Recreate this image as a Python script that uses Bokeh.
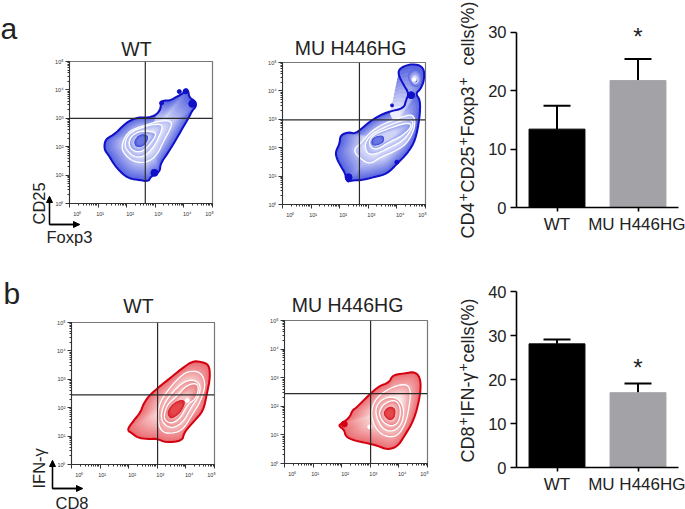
import math
from bokeh.plotting import figure
from bokeh.layouts import column, row
from bokeh.models import Label, Span, Arrow, NormalHead, Whisker, ColumnDataSource, TeeHead, Range1d, FactorRange
from bokeh.core.properties import value
from bokeh.embed import file_html
from bokeh.resources import INLINE

FONT = "Liberation Sans"
INK = "#222222"
PAGE_W, PAGE_H = 685, 509

# ---- bar data
bar_categories = ["WT", "MU H446HG"]
a_values = [13.4, 21.7]
a_upper = [17.4, 25.4]
a_star = [29.3]
b_values = [28.1, 17.0]
b_upper = [29.1, 19.1]
b_star = [22.7]
bar_colors = ["#000000", "#a3a3a7"]

# ---- flow data: contours in log10 decades, outermost first
a1_contours = [
 [(1.22,2.11),(1.29,2.28),(1.60,2.46),(1.84,2.71),(2.07,2.90),(2.42,3.04),(2.71,3.02),(3.01,3.10),(3.20,3.33),(3.18,3.57),(3.32,3.63),(3.53,3.63),(3.77,3.77),(3.98,3.88),(4.06,4.04),(4.15,3.98),(4.19,3.72),(4.41,3.60),(4.43,3.42),(4.29,3.27),(4.18,3.04),(3.94,2.63),(3.71,2.22),(3.42,1.75),(3.18,1.40),(3.16,1.11),(2.83,0.94),(2.77,0.78),(2.48,0.82),(2.07,0.88),(1.78,1.11),(1.54,1.40),(1.37,1.70),(1.23,1.87)],
 [(1.80,1.99),(2.01,2.51),(2.48,2.71),(3.18,2.92),(3.59,2.90),(3.53,2.63),(3.30,2.22),(3.06,1.70),(2.71,1.44),(2.25,1.46),(1.95,1.70)],
 [(1.92,2.11),(2.07,2.46),(2.48,2.67),(3.06,2.81),(3.26,2.75),(3.18,2.46),(2.95,1.99),(2.60,1.64),(2.25,1.64),(2.01,1.87)],
 [(2.07,2.16),(2.19,2.40),(2.48,2.55),(2.83,2.54),(3.06,2.46),(2.83,2.11),(2.60,1.87),(2.36,1.81),(2.13,1.93)],
 [(2.25,2.22),(2.48,2.46),(2.77,2.40),(2.71,2.16),(2.54,1.99),(2.30,1.99)],
]
a1_islands = []
a1_blob_x = [3.84, 4.29, 2.97, 3.22, 4.06]
a1_blob_y = [3.94, 3.51, 1.08, 3.54, 3.95]
a1_blob_s = [4, 7, 7, 4, 5]
a1_cross = (2.65, 3.0)

a2_contours = [
 [(1.85,1.85),(2.00,2.14),(2.02,2.44),(2.31,2.55),(2.55,2.49),(2.90,2.79),(3.19,3.02),(3.66,3.26),(4.24,3.38),(4.32,3.67),(4.42,3.91),(4.24,4.20),(4.03,4.61),(4.12,4.82),(4.53,4.96),(4.94,4.85),(4.96,4.38),(4.82,4.05),(4.65,3.91),(4.82,3.67),(4.80,3.08),(4.65,2.26),(4.36,1.79),(4.01,1.44),(3.66,1.08),(3.19,0.96),(2.72,0.85),(2.43,0.85),(2.25,0.79),(2.20,1.08),(2.02,1.38),(1.90,1.61)],
 [(2.46,1.91),(2.78,2.20),(3.07,2.55),(3.54,2.85),(4.12,3.06),(4.59,3.20),(4.65,2.73),(4.36,2.14),(3.89,1.85),(3.42,1.67),(3.07,1.41),(2.72,1.61)],
 [(2.90,2.20),(3.13,2.49),(3.60,2.73),(4.12,2.94),(4.53,3.02),(4.57,2.73),(4.24,2.26),(3.77,2.02),(3.31,1.79),(3.01,1.76),(2.90,1.96)],
 [(3.01,2.20),(3.19,2.47),(3.66,2.65),(4.24,2.85),(4.50,2.85),(4.47,2.67),(4.12,2.38),(3.71,2.20),(3.36,1.96),(3.13,1.96)],
 [(3.10,2.26),(3.25,2.40),(3.54,2.44),(3.56,2.20),(3.31,2.08),(3.13,2.08)],
]
a2_islands = [
 [(4.36,4.61),(4.65,4.82),(4.88,4.61),(4.88,4.20),(4.59,4.12),(4.42,4.32)],
 [(4.50,4.40),(4.61,4.53),(4.77,4.40),(4.65,4.24)],
]
a2_blob_x = [3.83, 4.50, 2.31, 4.00]
a2_blob_y = [3.49, 3.85, 0.96, 1.49]
a2_blob_s = [3, 7, 7, 4]
a2_cross = (2.69, 2.98)

b1_contours = [
 [(1.94,1.21),(2.12,1.48),(2.41,1.83),(2.51,2.12),(2.70,2.41),(3.00,2.68),(3.47,3.06),(3.82,3.35),(4.23,3.64),(4.52,3.62),(4.81,3.52),(4.85,3.06),(4.73,2.47),(4.61,1.89),(4.29,1.53),(3.93,1.12),(3.88,0.83),(3.29,0.77),(3.00,0.91),(2.65,0.89),(2.30,0.95),(2.12,1.10)],
 [(3.02,1.65),(3.06,2.12),(3.35,2.59),(3.70,3.00),(4.05,3.29),(4.52,3.27),(4.70,2.82),(4.52,2.24),(4.23,1.77),(3.88,1.18),(3.35,1.07),(3.09,1.24)],
 [(3.11,1.65),(3.23,2.12),(3.52,2.53),(3.88,2.88),(4.23,3.00),(4.52,2.82),(4.46,2.41),(4.17,2.00),(3.93,1.53),(3.58,1.28),(3.29,1.36)],
 [(3.23,1.71),(3.35,2.12),(3.70,2.41),(3.99,2.76),(4.34,2.88),(4.46,2.70),(4.34,2.30),(4.05,2.12),(3.82,1.65),(3.52,1.44),(3.29,1.53)],
 [(3.35,1.89),(3.58,2.18),(3.88,2.30),(3.99,2.18),(3.82,1.83),(3.52,1.60),(3.38,1.68)],
]
b1_islands = []
b1_blob_x, b1_blob_y, b1_blob_s = [], [], []
b1_cross = (3.01, 2.45)

b2_contours = [
 [(1.91,1.35),(2.26,1.58),(2.38,1.87),(2.49,1.93),(2.96,2.40),(3.31,2.71),(3.66,2.83),(3.78,3.09),(4.18,3.15),(4.59,3.21),(4.77,2.92),(4.74,2.34),(4.53,1.52),(4.18,0.94),(3.95,0.59),(3.60,0.48),(3.25,0.62),(2.90,0.71),(2.44,0.80),(2.14,0.94),(2.09,1.17),(1.93,1.29)],
 [(3.02,1.81),(3.19,2.28),(3.66,2.63),(4.24,2.80),(4.42,2.57),(4.36,1.99),(4.24,1.41),(3.95,0.94),(3.48,0.94),(3.14,1.29)],
 [(3.17,1.93),(3.43,2.28),(3.89,2.34),(4.18,1.99),(4.13,1.41),(3.83,1.12),(3.48,1.17),(3.25,1.52)],
 [(3.31,1.81),(3.48,2.10),(3.89,2.24),(4.07,1.93),(4.01,1.47),(3.78,1.29),(3.48,1.41),(3.34,1.64)],
 [(3.46,1.81),(3.66,2.01),(3.89,1.93),(3.86,1.58),(3.66,1.50),(3.50,1.64)],
]
b2_islands = []
b2_blob_x, b2_blob_y, b2_blob_s = [2.09], [1.38], [6]
b2_cross = (3.01, 2.44)

white_dots = {"a2": [(4.61, 4.40)], "b1": [(4.05, 2.26)], "b2": [(2.98, 1.28)]}

decade_values = [1, 10, 100, 1000, 10000, 100000]
decade_texts = ["10⁰", "10¹", "10²", "10³", "10⁴", "10⁵"]
decade_x_shift = [7.7, 2, 3.5, 3, 3.3, -3]

BLUE = dict(line="#1010c8", bands=[("#5a67e0", "#eceefc"), ("#b4bbf3", "#f1f2fd"), ("#a8b0f0", "#e6e9fb"), ("#8a95ea", "#ced3f7"), ("#3f4dd6", "#6a76e2")], island="#d4d8f8")
RED = dict(line="#d4000f", bands=[("#ea7075", "#fbe2e2"), ("#f09c9e", "#fce9e9"), ("#ec8c8f", "#fadfdf"), ("#e87c80", "#f6c4c6"), ("#d81f28", "#e4474c")], island="#f5c4c6")


def mix(c1, c2, t):
    a = [int(c1[i:i+2], 16) for i in (1, 3, 5)]
    b = [int(c2[i:i+2], 16) for i in (1, 3, 5)]
    return "#%02x%02x%02x" % tuple(round(a[i] + (b[i] - a[i]) * t) for i in range(3))


def chaikin(pts, n=2):
    for _ in range(n):
        out = []
        for i in range(len(pts)):
            p0, p1 = pts[i], pts[(i + 1) % len(pts)]
            out.append((0.75 * p0[0] + 0.25 * p1[0], 0.75 * p0[1] + 0.25 * p1[1]))
            out.append((0.25 * p0[0] + 0.75 * p1[0], 0.25 * p0[1] + 0.75 * p1[1]))
        pts = out
    return pts


def centroid(pts):
    return sum(q[0] for q in pts) / len(pts), sum(q[1] for q in pts) / len(pts)


def flow(w, h, left, top, fw, fh, contours, islands, bx, by, bs, cross, style, dots):
    p = figure(width=w, height=h, frame_width=fw, frame_height=fh, min_border_left=left, min_border_top=top,
               min_border_right=w - left - fw, min_border_bottom=h - top - fh,
               x_axis_type="log", y_axis_type="log", x_range=Range1d(1, 1e5), y_range=Range1d(1, 1e5),
               toolbar_location=None, output_backend="svg", outline_line_color="#777777", outline_line_width=1.2)
    p.grid.visible = False
    for ax in (p.xaxis[0], p.yaxis[0]):
        ax.ticker.num_minor_ticks = 10
        ax.major_label_text_font = FONT
        ax.major_label_text_font_size = "5.5px"
        ax.major_label_text_color = "#333333"
        ax.major_label_standoff = 2
        ax.major_tick_line_color = "#333333"
        ax.minor_tick_line_color = "#333333"
        ax.major_tick_out = 4
        ax.major_tick_in = 0
        ax.minor_tick_out = 2
        ax.minor_tick_in = 0
        ax.axis_line_color = "#333333"
        ax.axis_line_width = 1
    p.yaxis[0].major_label_overrides = dict(zip(decade_values, decade_texts))
    # the x tick labels sit off their ticks in the reference, so they go on the sheet
    p.xaxis[0].major_label_overrides = {v: "" for v in decade_values}

    xs, ys, cols = [], [], []
    n = len(contours)
    for i, c in enumerate(contours):
        sm = chaikin(c)
        cx, cy = centroid(contours[i + 1] if i + 1 < n else c)
        c0, c1 = style["bands"][i]
        steps = 12
        for k in range(steps):
            f = 1 - (0.42 if i else 0.6) * k / (steps - 1)
            xs.append([10 ** (cx + (q[0] - cx) * f) for q in sm])
            ys.append([10 ** (cy + (q[1] - cy) * f) for q in sm])
            cols.append(mix(c0, c1, k / (steps - 1)))
    if islands:
        sm = chaikin(islands[0])
        cx, cy = centroid(islands[1])
        for k in range(8):
            f = 1 - 0.7 * k / 7
            xs.append([10 ** (cx + (q[0] - cx) * f) for q in sm])
            ys.append([10 ** (cy + (q[1] - cy) * f) for q in sm])
            cols.append(mix(style["bands"][0][0], style["island"], k / 7))
    p.patches(xs, ys, fill_color=cols, line_color=None)

    outer = chaikin(contours[0])
    p.patch([10 ** q[0] for q in outer], [10 ** q[1] for q in outer], fill_color=None,
            line_color=style["line"], line_width=2)
    lx = [[10 ** q[0] for q in chaikin(c) + chaikin(c)[:1]] for c in contours[1:-1]]
    ly = [[10 ** q[1] for q in chaikin(c) + chaikin(c)[:1]] for c in contours[1:-1]]
    p.multi_line(lx, ly, line_color="white", line_width=1.3)
    if islands:
        core = chaikin(islands[1])
        p.patch([10 ** q[0] for q in core], [10 ** q[1] for q in core], fill_color=style["bands"][4][0],
                line_color="white", line_width=1)
    if bx:
        p.scatter([10 ** v for v in bx], [10 ** v for v in by], size=bs, color=style["line"])
    if dots:
        p.scatter([10 ** q[0] for q in dots], [10 ** q[1] for q in dots], size=4, color="white")
    p.add_layout(Span(location=10 ** cross[0], dimension="height", line_color="#2a2a2a", line_width=1.2))
    p.add_layout(Span(location=10 ** cross[1], dimension="width", line_color="#2a2a2a", line_width=1.2))
    return p


def bars(w, h, left, top, fw, fh, vals, upper, ymax, axis_max, ticks, star):
    p = figure(width=w, height=h, frame_width=fw, frame_height=fh, min_border_left=left, min_border_top=top,
               min_border_right=w - left - fw, min_border_bottom=h - top - fh,
               x_range=FactorRange(factors=bar_categories, range_padding=0, factor_padding=0), y_range=Range1d(0, ymax),
               toolbar_location=None, output_backend="svg", outline_line_color=None)
    p.grid.visible = False
    src = ColumnDataSource(dict(x=bar_categories, top=vals, upper=upper, color=bar_colors))
    p.add_layout(Whisker(base="x", lower="top", upper="upper", source=src, line_color="black", line_width=2,
                         upper_head=TeeHead(size=27, line_color="black", line_width=2), lower_head=None))
    p.vbar(x="x", top="top", width=0.69, bottom=0, fill_color="color", line_color="color", source=src)
    p.text(x=[bar_categories[1]], y=star, text=["*"], text_font=value(FONT), text_font_size="24px",
           text_align="center", text_baseline="middle", text_color=INK)
    for ax in (p.xaxis[0], p.yaxis[0]):
        ax.axis_line_color = "black"
        ax.axis_line_width = 1.6
        ax.major_tick_line_color = "black"
        ax.major_tick_line_width = 1.6
        ax.major_tick_in = 0
        ax.minor_tick_line_color = None
        ax.major_label_text_font = FONT
        ax.major_label_text_color = INK
    p.yaxis[0].bounds = (0, axis_max)
    p.yaxis[0].major_tick_out = 6
    p.yaxis[0].ticker = ticks
    p.yaxis[0].major_label_text_font_size = "16.5px"
    p.yaxis[0].major_label_standoff = 4
    p.xaxis[0].major_tick_out = 4
    p.xaxis[0].major_label_text_font_size = "17px"
    p.xaxis[0].major_label_standoff = 3
    return p


a1 = flow(240, 270, 69, 61, 143, 142, a1_contours, a1_islands, a1_blob_x, a1_blob_y, a1_blob_s, a1_cross, BLUE, [])
a2 = flow(210, 270, 42, 62, 143, 142, a2_contours, a2_islands, a2_blob_x, a2_blob_y, a2_blob_s, a2_cross, BLUE, white_dots["a2"])
a3 = bars(235, 270, 66, 14, 162, 193, a_values, a_upper, 33, 30, [0, 10, 20, 30], a_star)
b1 = flow(240, 239, 71, 52, 143, 142, b1_contours, b1_islands, b1_blob_x, b1_blob_y, b1_blob_s, b1_cross, RED, white_dots["b1"])
b2 = flow(210, 239, 44, 50, 143, 143, b2_contours, b2_islands, b2_blob_x, b2_blob_y, b2_blob_s, b2_cross, RED, white_dots["b2"])
b3 = bars(235, 239, 66, 21, 162, 176, b_values, b_upper, 40, 40, [0, 10, 20, 30, 40], b_star)

# transparent sheet over the whole page for the free texts and gate arrows
sheet = figure(width=PAGE_W, height=PAGE_H, frame_width=PAGE_W, frame_height=PAGE_H, min_border=0,
               x_range=Range1d(0, PAGE_W), y_range=Range1d(0, PAGE_H), x_axis_location=None, y_axis_location=None,
               toolbar_location=None, output_backend="svg", outline_line_color=None,
               background_fill_alpha=0, border_fill_alpha=0, margin=(-PAGE_H, 0, 0, 0))
sheet.grid.visible = False


def add_text(txt, sx, sy, size, align="center", baseline="middle", angle=0, color=INK):
    sheet.add_layout(Label(x=sx, y=PAGE_H - sy, x_units="screen", y_units="screen", text=txt, text_font=FONT,
                           text_font_size=f"{size}px", text_align=align, text_baseline=baseline,
                           angle=angle, text_color=color))


def marker(ox, oy, up, rt):
    for (x1, y1) in ((ox, up), (rt, oy)):
        sheet.add_layout(Arrow(x_start=ox, y_start=PAGE_H - oy, x_end=x1, y_end=PAGE_H - y1,
                               start_units="screen", end_units="screen", line_color="black", line_width=1.3, end=None))
        sheet.add_layout(Arrow(x_start=ox, y_start=PAGE_H - oy, x_end=x1, y_end=PAGE_H - y1,
                               start_units="screen", end_units="screen", line_color="black", line_width=1.3,
                               end=NormalHead(size=6, fill_color="black", line_color="black")))


def x_tick_labels(left, bottom, width):
    for i, t in enumerate(decade_texts):
        add_text(t, left + i * width / 5 + decade_x_shift[i], bottom + 10, 5.5, color="#333333")


x_tick_labels(69, 203, 143)
x_tick_labels(282, 204, 143)
x_tick_labels(71, 464, 143)
x_tick_labels(284, 463, 143)

add_text("a", 0, 28, 30, align="left")
add_text("b", 3, 293, 30, align="left")
add_text("WT", 136, 48, 19.5)
add_text("MU H446HG", 350, 47, 19.5)
add_text("WT", 138, 305, 19.5)
add_text("MU H446HG", 347, 304, 19.5)

up = math.pi / 2
for txt, x_, y_, size in (("CD4", 467, 238, 18), ("+", 462, 201, 14), ("CD25", 467, 192, 18), ("+", 462, 145, 14),
                          ("Foxp3", 467, 136, 18), ("+", 462, 85, 14), ("cells(%)", 467, 65, 18),
                          ("CD8", 467, 462, 18), ("+", 462, 425, 14), ("IFN-γ", 467, 416, 18),
                          ("+", 462, 371, 14), ("cells(%)", 467, 362, 18)):
    add_text(txt, x_, y_, size, align="left", angle=up)

add_text("CD25", 38, 224, 16.5, align="left", angle=up)
add_text("Foxp3", 46, 236, 16.5, align="left")
add_text("IFN-γ", 38, 488, 16.5, align="left", angle=up)
add_text("CD8", 55, 502, 16.5, align="left")
marker(49, 224, 196, 79)
marker(52, 488, 460, 82)

page = column(row(column(a1), column(a2), column(a3), spacing=0),
              row(column(b1), column(b2), column(b3), spacing=0), sheet, spacing=0)
open("out.html", "w").write(file_html(page, INLINE))
